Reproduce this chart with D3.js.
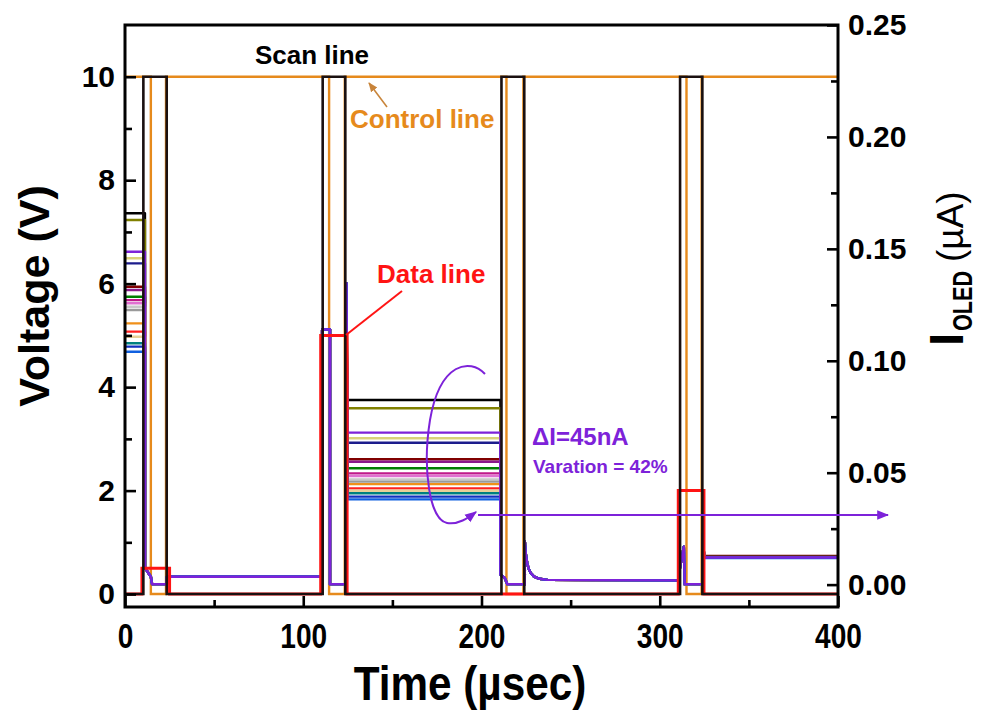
<!DOCTYPE html>
<html>
<head>
<meta charset="utf-8">
<script src="https://cdn.jsdelivr.net/npm/d3@7"></script>
<style>
  html, body { margin: 0; padding: 0; background: #fff; }
  svg { display: block; }
  text { font-family: "Liberation Sans", Arial, sans-serif; font-weight: bold; }
</style>
</head>
<body>
<svg id="chart" width="983" height="713"></svg>
<script>
// ---------- axes ----------
const timeDomain = [0, 400];
const voltDomain = [-0.25, 11];
const currentDomain = [-0.01, 0.25];
const timeTicks = [0, 100, 200, 300, 400];
const timeMinor = [50, 150, 250, 350];
const voltTicks = [0, 2, 4, 6, 8, 10];
const voltMinor = [1, 3, 5, 7, 9];
const currentTicks = [0, 0.05, 0.10, 0.15, 0.20, 0.25];
const currentMinor = [0.025, 0.075, 0.125, 0.175, 0.225];

// ---------- drive waveforms (µs, V) ----------
const scanTime = [0, 10.3, 10.3, 23.4, 23.4, 110.9, 110.9, 123.6, 123.6, 211.2, 211.2, 224, 224, 311.4, 311.4, 323.9, 323.9, 400];
const scanVolt = [0, 0, 10, 10, 0, 0, 10, 10, 0, 0, 10, 10, 0, 0, 10, 10, 0, 0];

const controlTime = [0, 14.5, 14.5, 23, 23, 114.5, 114.5, 123.3, 123.3, 214, 214, 223.5, 223.5, 315, 315, 323.5, 323.5, 400];
const controlVolt = [10, 10, 0, 0, 10, 10, 0, 0, 10, 10, 0, 0, 10, 10, 0, 0, 10, 10];

const dataTime = [0, 9.5, 9.5, 25, 25, 109.8, 109.8, 124.6, 124.6, 310.4, 310.4, 324.8, 324.8, 400];
const dataVolt = [0, 0, 0.5, 0.5, 0, 0, 5, 5, 0, 0, 2, 2, 0, 0];

// ---------- OLED current family (µA) ----------
const oledColors = ["#000000", "#808000", "#d9d17a", "#1c1c8c", "#800000", "#8a1a8a", "#008000", "#c0188a",
                    "#e070d0", "#c8c8c8", "#9a9a9a", "#f0901a", "#ff2020", "#e8d098", "#008080", "#1030c0",
                    "#1060e0", "#7d22d9"];
// level before the first scan pulse
const oledPreLevel = [0.1659, 0.1629, 0.1458, 0.1435, 0.1331, 0.1316, 0.1286, 0.1271,
                      0.1257, 0.1241, 0.1227, 0.1167, 0.1130, 0.1107, 0.1078, 0.1063,
                      0.1040, 0.1487];
// level held after programming with 5 V data
const oledHoldLevel = [0.0825, 0.0788, 0.0654, 0.0634, 0.0560, 0.0549, 0.0520, 0.0497,
                       0.0485, 0.0470, 0.0460, 0.0449, 0.0430, 0.0419, 0.0408, 0.0393,
                       0.0381, 0.0679];
// level after programming with 2 V data
const oledFinalLevel = [0.0127, 0.0126, 0.0125, 0.0125, 0.0128, 0.0124, 0.0124, 0.0123,
                        0.0123, 0.0122, 0.0122, 0.0122, 0.0121, 0.0121, 0.0120, 0.0120,
                        0.0119, 0.0121];
// shared response from the first scan pulse to the end of the second one
const oledSharedATime = [11.2, 14.5, 15.2, 23.5, 23.5, 110.6, 110.6, 115, 115, 124.2, 124.2];
const oledSharedAVal  = [0.0075, 0.0035, 0.0002, 0.0002, 0.0035, 0.0035, 0.114, 0.114, 0.0002, 0.0002, 0.1347];
// shared response from the third scan pulse to the fourth one
const oledSharedBTime = [210.6, 213, 214.5, 224.3, 224.3, 224.9, 225.6, 226.4, 227.6, 229.5, 232.5, 237, 310.5, 311, 313.5, 314, 324.2, 324.2];
const oledSharedBVal  = [0.0045, 0.0030, 0.0002, 0.0002, 0.0192, 0.0135, 0.0098, 0.0072, 0.0052, 0.0036, 0.0026, 0.0021, 0.0019, 0.0060, 0.0169, 0.0002, 0.0002, 0.0225];

// ---------- layout ----------
const plot = { left: 125, right: 838, top: 25, bottom: 607 };

const svg = d3.select("#chart");
const x = d3.scaleLinear().domain(timeDomain).range([plot.left, plot.right]);
const yV = d3.scaleLinear().domain(voltDomain).range([plot.bottom, plot.top]);
const yI = d3.scaleLinear().domain(currentDomain).range([plot.bottom, plot.top]);

const defs = svg.append("defs");
defs.append("clipPath").attr("id", "plotClip")
  .append("rect")
  .attr("x", plot.left).attr("y", plot.top)
  .attr("width", plot.right - plot.left).attr("height", plot.bottom - plot.top);

const zip = (t, v) => t.map((d, i) => [d, v[i]]);
const lineV = d3.line().x(d => x(d[0])).y(d => yV(d[1]));
const lineI = d3.line().x(d => x(d[0])).y(d => yI(d[1]));

const traces = svg.append("g").attr("clip-path", "url(#plotClip)").attr("fill", "none");

// control line
traces.append("path").attr("d", lineV(zip(controlTime, controlVolt)))
  .attr("stroke", "#e68a1c").attr("stroke-width", 2.4);

// OLED current traces
oledColors.forEach((c, i) => {
  const pts = [[0, oledPreLevel[i]], [11.2, oledPreLevel[i]]];
  oledSharedATime.forEach((t, k) => pts.push([t, oledSharedAVal[k]]));
  pts.push([124.8, oledHoldLevel[i]], [210.6, oledHoldLevel[i]]);
  oledSharedBTime.forEach((t, k) => pts.push([t, oledSharedBVal[k]]));
  pts.push([324.9, oledFinalLevel[i]], [400, oledFinalLevel[i]]);
  traces.append("path").attr("d", lineI(pts))
    .attr("stroke", c).attr("stroke-width", 2.4).attr("stroke-linejoin", "round");
});

// data line
traces.append("path").attr("d", lineV(zip(dataTime, dataVolt)))
  .attr("stroke", "#ff1414").attr("stroke-width", 3);

// scan line
traces.append("path").attr("d", lineV(zip(scanTime, scanVolt)))
  .attr("stroke", "#1a1010").attr("stroke-width", 2.6);

// ---------- axes ----------
const styleAxis = g => {
  g.select(".domain").remove();
  g.selectAll(".tick line").attr("stroke", "#000").attr("stroke-width", 2.6);
  g.selectAll(".tick text").attr("fill", "#000");
};

svg.append("g").attr("transform", `translate(0,${plot.bottom})`)
  .call(d3.axisBottom(x).tickValues(timeTicks).tickSizeInner(-11).tickSizeOuter(0).tickPadding(15))
  .call(styleAxis)
  .call(g => g.selectAll(".tick text").attr("font-size", 36).attr("transform", "scale(0.78,1)"));
svg.append("g").attr("transform", `translate(0,${plot.bottom})`)
  .call(d3.axisBottom(x).tickValues(timeMinor).tickSizeInner(-7).tickSizeOuter(0).tickFormat(""))
  .call(styleAxis);

svg.append("g").attr("transform", `translate(${plot.left},0)`)
  .call(d3.axisLeft(yV).tickValues(voltTicks).tickSizeInner(-11).tickSizeOuter(0).tickPadding(10))
  .call(styleAxis)
  .call(g => g.selectAll(".tick text").attr("font-size", 30));
svg.append("g").attr("transform", `translate(${plot.left},0)`)
  .call(d3.axisLeft(yV).tickValues(voltMinor).tickSizeInner(-7).tickSizeOuter(0).tickFormat(""))
  .call(styleAxis);

svg.append("g").attr("transform", `translate(${plot.right},0)`)
  .call(d3.axisRight(yI).tickValues(currentTicks).tickFormat(d3.format(".2f")).tickSizeInner(-11).tickSizeOuter(0).tickPadding(10))
  .call(styleAxis)
  .call(g => g.selectAll(".tick text").attr("font-size", 30));
svg.append("g").attr("transform", `translate(${plot.right},0)`)
  .call(d3.axisRight(yI).tickValues(currentMinor).tickSizeInner(-7).tickSizeOuter(0).tickFormat(""))
  .call(styleAxis);

// frame
svg.append("rect")
  .attr("x", plot.left).attr("y", plot.top)
  .attr("width", plot.right - plot.left).attr("height", plot.bottom - plot.top)
  .attr("fill", "none").attr("stroke", "#000").attr("stroke-width", 3);

// axis titles
svg.append("text")
  .attr("transform", `translate(49,296) rotate(-90)`)
  .attr("text-anchor", "middle").attr("font-size", 43).text("Voltage (V)");

svg.append("text")
  .attr("transform", `translate(470,700) scale(0.88,1)`)
  .attr("text-anchor", "middle").attr("font-size", 48).text("Time (\u00b5sec)");

// right title: I_OLED (µA), reading upward
const rTitle = svg.append("g").attr("transform", "translate(963,346) rotate(-90)");
rTitle.append("text").attr("x", 0).attr("y", 0).attr("font-size", 48).text("I");
rTitle.append("text").attr("transform", "translate(15,9) scale(0.8,1)").attr("font-size", 27).text("OLED");
rTitle.append("text").attr("x", 84).attr("y", 0).attr("font-size", 37)
  .style("font-weight", "normal").text("(\u00b5A)");

// ---------- annotations ----------
const marker = (id, color, size) => defs.append("marker")
  .attr("id", id).attr("viewBox", "0 0 10 10").attr("refX", 9).attr("refY", 5)
  .attr("markerWidth", size).attr("markerHeight", size).attr("orient", "auto")
  .append("path").attr("d", "M0,1 L10,5 L0,9 Z").attr("fill", color);
marker("arrowOrange", "#c8843a", 6);
marker("arrowPurple", "#7d22d9", 6);

svg.append("text").attr("x", 312).attr("y", 64).attr("text-anchor", "middle")
  .attr("font-size", 26).attr("fill", "#000").text("Scan line");

svg.append("text").attr("x", 350).attr("y", 128)
  .attr("font-size", 26).attr("fill", "#e68a1c").text("Control line");
svg.append("line").attr("x1", 387).attr("y1", 107).attr("x2", 369).attr("y2", 83)
  .attr("stroke", "#c8843a").attr("stroke-width", 1.6).attr("marker-end", "url(#arrowOrange)");

svg.append("text").attr("x", 377).attr("y", 283)
  .attr("font-size", 26).attr("fill", "#ff1414").text("Data line");
svg.append("line").attr("x1", 402).attr("y1", 291).attr("x2", 346).attr("y2", 335)
  .attr("stroke", "#ff1414").attr("stroke-width", 2);

svg.append("text").attr("x", 532).attr("y", 445)
  .attr("font-size", 24).attr("fill", "#7d22d9").text("\u0394I=45nA");
svg.append("text").attr("x", 533).attr("y", 473)
  .attr("font-size", 19).attr("fill", "#7d22d9").text("Varation = 42%");

svg.append("path")
  .attr("d", "M485,374 C470,358 440,362 430,420 C422,470 430,520 447,523 C458,525 468,518 476,512")
  .attr("fill", "none").attr("stroke", "#7d22d9").attr("stroke-width", 2)
  .attr("marker-end", "url(#arrowPurple)");
svg.append("line").attr("x1", 478).attr("y1", 515).attr("x2", 888).attr("y2", 515)
  .attr("stroke", "#7d22d9").attr("stroke-width", 2).attr("marker-end", "url(#arrowPurple)");
</script>
</body>
</html>
